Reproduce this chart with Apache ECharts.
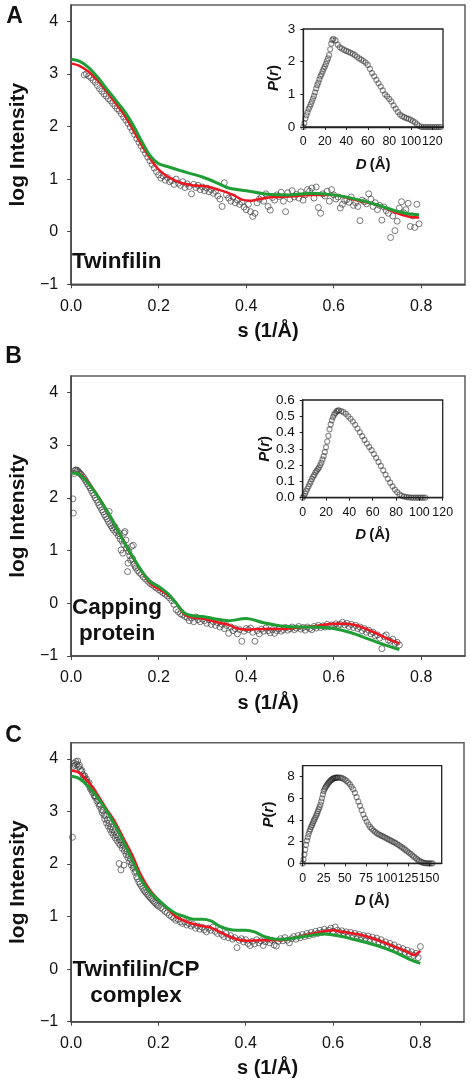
<!DOCTYPE html>
<html>
<head>
<meta charset="utf-8">
<script src="https://cdn.jsdelivr.net/npm/echarts@6/dist/echarts.min.js"></script>
<style>
html,body{margin:0;padding:0;background:#fff;}
#chart{width:471px;height:1088px;}
</style>
</head>
<body>
<div id="chart"></div>
<script>
// ---------- tick labels ----------
const S_TICKS = [0, 0.2, 0.4, 0.6, 0.8];
const LOGI_TICKS = [-1, 0, 1, 2, 3, 4];
const PR_A_XTICKS = [0, 20, 40, 60, 80, 100, 120];
const PR_A_YTICKS = [0, 1, 2, 3];
const PR_B_XTICKS = [0, 20, 40, 60, 80, 100, 120];
const PR_B_YTICKS = [0, 0.1, 0.2, 0.3, 0.4, 0.5, 0.6];
const PR_C_XTICKS = [0, 25, 50, 75, 100, 125, 150];
const PR_C_YTICKS = [0, 2, 4, 6, 8];
const PANEL_LETTERS = ['A', 'B', 'C'];
const PANEL_NAMES = ['Twinfilin', 'Capping\nprotein', 'Twinfilin/CP\ncomplex'];

// ---------- Panel A: Twinfilin (s, log I) ----------
const expA = [[0.030,2.98],[0.035,3.00],[0.040,2.96],[0.045,2.93],[0.050,2.88],[0.055,2.84],[0.060,2.78],[0.065,2.72],[0.070,2.67],[0.075,2.62],[0.080,2.58],[0.085,2.53],[0.090,2.49],[0.095,2.44],[0.100,2.39],[0.105,2.34],[0.110,2.30],[0.115,2.24],[0.120,2.18],[0.125,2.12],[0.130,2.06],[0.135,1.99],[0.140,1.92],[0.145,1.85],[0.150,1.77],[0.155,1.70],[0.160,1.63],[0.165,1.56],[0.170,1.49],[0.175,1.42],[0.180,1.35],[0.185,1.28],[0.190,1.21],[0.195,1.14],
[0.200,1.08],[0.205,1.02],[0.210,1.06],[0.215,0.98],[0.220,1.03],[0.225,0.95],[0.230,0.97],[0.235,0.90],[0.240,1.00],[0.245,0.92],[0.250,0.88],[0.255,0.95],[0.260,0.84],[0.265,0.91],[0.270,0.86],[0.275,0.72],[0.280,0.90],[0.285,0.84],[0.290,0.88],[0.295,0.80],[0.300,0.85],[0.305,0.78],[0.310,0.83],[0.315,0.76],[0.320,0.80],[0.325,0.73],[0.330,0.77],[0.335,0.68],[0.340,0.62],[0.345,0.48],[0.350,0.93],[0.355,0.70],[0.360,0.64],[0.365,0.58],[0.370,0.66],[0.375,0.55],[0.380,0.60],[0.385,0.52],[0.390,0.56],[0.395,0.47],[0.400,0.42],[0.405,0.52],[0.410,0.38],[0.415,0.29],[0.420,0.35],[0.425,0.55],[0.430,0.62],[0.435,0.66],[0.440,0.58],[0.445,0.72],[0.450,0.48],[0.455,0.41],[0.460,0.65],[0.465,0.60],[0.470,0.70],[0.475,0.67],[0.480,0.75],[0.485,0.58],[0.490,0.38],[0.495,0.74],[0.500,0.62],[0.505,0.78],[0.510,0.66],[0.515,0.71],[0.520,0.64],[0.525,0.76],[0.530,0.60],[0.535,0.70],[0.540,0.80],[0.545,0.77],[0.550,0.83],[0.555,0.64],[0.560,0.85],[0.565,0.46],[0.570,0.35],[0.575,0.72],[0.580,0.68],[0.585,0.77],[0.590,0.58],[0.595,0.80],[0.600,0.70],[0.605,0.62],[0.610,0.66],[0.615,0.45],[0.620,0.52],[0.625,0.59],[0.630,0.61],[0.635,0.56],[0.640,0.66],[0.645,0.50],[0.650,0.55],[0.655,0.48],[0.660,0.21],[0.665,0.60],[0.670,0.57],[0.675,0.53],[0.680,0.72],[0.685,0.62],[0.690,0.48],[0.695,0.55],[0.700,0.42],[0.705,0.50],[0.710,0.22],[0.715,0.47],[0.720,0.40],[0.725,0.35],[0.730,-0.11],[0.735,0.30],[0.740,0.02],[0.745,0.20],[0.750,0.45],[0.755,0.57],[0.760,0.36],[0.765,0.42],[0.770,0.54],[0.775,0.10],[0.780,0.30],[0.785,0.08],[0.790,0.52],[0.795,0.15]];
const fitA = [[0,3.20],[0.02,3.15],[0.04,3.04],[0.06,2.88],[0.08,2.68],[0.10,2.46],[0.12,2.24],[0.14,1.96],[0.16,1.66],[0.18,1.40],[0.19,1.28],[0.20,1.18],[0.22,1.05],[0.25,0.93],[0.28,0.88],[0.31,0.86],[0.34,0.79],[0.37,0.70],[0.39,0.61],[0.41,0.59],[0.43,0.62],[0.46,0.66],[0.50,0.67],[0.55,0.70],[0.60,0.70],[0.65,0.60],[0.70,0.51],[0.74,0.37],[0.77,0.29],[0.795,0.27]];
const modelA = [[0,3.28],[0.02,3.24],[0.04,3.12],[0.06,2.94],[0.08,2.73],[0.10,2.52],[0.12,2.31],[0.14,2.05],[0.16,1.74],[0.18,1.45],[0.20,1.29],[0.22,1.24],[0.25,1.16],[0.28,1.09],[0.30,1.04],[0.33,0.94],[0.36,0.83],[0.40,0.78],[0.45,0.71],[0.50,0.70],[0.55,0.73],[0.60,0.70],[0.65,0.62],[0.70,0.51],[0.74,0.40],[0.77,0.34],[0.795,0.32]];
const prA = [[0,0],[1,0.12],[2,0.26],[3,0.36],[4,0.45],[5,0.55],[6,0.62],[7,0.70],[8,0.78],[9,0.87],[10,0.95],[11,1.06],[12,1.18],[13,1.28],[14,1.36],[15,1.46],[16,1.55],[17,1.62],[18,1.70],[19,1.78],[20,1.85],[21,1.93],[22,2.02],[23,2.10],[24,2.20],[25,2.38],[26,2.55],[27,2.66],[28,2.70],
[30,2.65],[32,2.52],[34,2.44],[36,2.40],[38,2.36],[40,2.33],[42,2.30],[44,2.27],[46,2.24],[48,2.20],[50,2.15],[52,2.10],[54,2.06],[56,2.02],[58,1.97],[60,1.90],[62,1.78],[64,1.65],[66,1.55],[68,1.44],[70,1.34],[72,1.24],[74,1.12],[76,1.00],[78,0.94],[80,0.86],[82,0.78],[84,0.66],[86,0.56],[88,0.46],[90,0.38],[92,0.33],[94,0.30],[96,0.27],[98,0.25],[100,0.22],[102,0.18],[104,0.14],[106,0.08],[108,0.03],[110,0],[112,0],[114,0],[116,0],[118,0],[120,0],[122,0],[124,0],[126,0],[128,0]];

// ---------- Panel B: Capping protein ----------
const expB = [[0.004,1.98],[0.005,1.71],[0.007,2.46],[0.009,2.52],[0.011,2.53],[0.013,2.51],[0.015,2.52],[0.017,2.49],[0.019,2.47],[0.022,2.45],[0.025,2.42],[0.028,2.39],[0.031,2.35],[0.034,2.31],[0.037,2.27],[0.040,2.23],[0.043,2.19],[0.046,2.14],[0.049,2.09],[0.052,2.05],[0.055,2.00],[0.058,1.96],[0.061,1.91],[0.064,1.86],[0.067,1.82],[0.070,1.77],[0.073,1.73],[0.076,1.68],[0.079,1.64],[0.082,1.60],[0.085,1.55],[0.087,1.74],[0.088,1.51],[0.091,1.47],[0.094,1.43],[0.097,1.39],[0.100,1.45],[0.102,1.34],[0.105,1.38],[0.108,1.28],[0.110,1.32],[0.112,1.22],[0.114,1.01],[0.116,1.18],[0.118,0.95],[0.120,1.12],[0.121,1.33],[0.123,1.36],[0.125,1.20],[0.127,1.05],[0.129,0.60],[0.130,0.76],[0.132,0.98],[0.134,0.90],[0.136,0.82],[0.138,1.08],[0.140,0.85],[0.142,1.10],[0.144,0.74],[0.146,0.70],[0.148,0.67],
[0.152,0.62],[0.156,0.58],[0.160,0.55],[0.165,0.50],[0.170,0.46],[0.175,0.42],[0.180,0.38],[0.185,0.35],[0.190,0.32],[0.195,0.29],[0.200,0.26],[0.205,0.23],[0.210,0.20],[0.215,0.17],[0.220,0.14],[0.225,0.10],[0.230,0.05],[0.235,-0.02],[0.240,-0.12],[0.245,-0.16],[0.250,-0.20],[0.255,-0.22],[0.260,-0.25],[0.265,-0.27],[0.270,-0.33],[0.275,-0.28],[0.280,-0.35],[0.285,-0.26],[0.290,-0.31],[0.295,-0.35],[0.300,-0.30],[0.305,-0.33],[0.310,-0.38],[0.315,-0.31],[0.320,-0.40],[0.325,-0.35],[0.330,-0.42],[0.335,-0.37],[0.340,-0.45],[0.345,-0.40],[0.350,-0.48],[0.355,-0.42],[0.360,-0.57],[0.365,-0.45],[0.370,-0.52],[0.375,-0.48],[0.380,-0.58],[0.385,-0.50],[0.390,-0.72],[0.395,-0.53],[0.400,-0.48],[0.405,-0.50],[0.410,-0.47],[0.415,-0.55],[0.420,-0.72],[0.425,-0.52],[0.430,-0.58],[0.435,-0.49],[0.440,-0.53],[0.445,-0.47],[0.450,-0.52],[0.455,-0.56],[0.460,-0.50],[0.465,-0.57],[0.470,-0.52],[0.475,-0.48],[0.480,-0.53],[0.485,-0.50],[0.490,-0.46],[0.495,-0.51],[0.500,-0.48],[0.505,-0.45],[0.510,-0.50],[0.515,-0.47],[0.520,-0.44],[0.525,-0.49],[0.530,-0.46],[0.535,-0.51],[0.540,-0.45],[0.545,-0.48],[0.550,-0.50],[0.555,-0.44],[0.560,-0.47],[0.565,-0.42],[0.570,-0.46],[0.575,-0.43],[0.580,-0.45],[0.585,-0.40],[0.590,-0.44],[0.595,-0.41],[0.600,-0.43],[0.605,-0.39],[0.610,-0.42],[0.615,-0.40],[0.620,-0.36],[0.625,-0.41],[0.630,-0.38],[0.635,-0.44],[0.640,-0.40],[0.645,-0.46],[0.650,-0.42],[0.655,-0.48],[0.660,-0.45],[0.665,-0.52],[0.670,-0.48],[0.675,-0.55],[0.680,-0.51],[0.685,-0.58],[0.690,-0.55],[0.695,-0.62],[0.700,-0.60],[0.705,-0.66],[0.710,-0.86],[0.715,-0.63],[0.720,-0.60],[0.725,-0.70],[0.730,-0.72],[0.735,-0.68],[0.740,-0.76],[0.745,-0.74],[0.750,-0.79]];
const fitB = [[0,2.47],[0.02,2.45],[0.05,2.17],[0.08,1.78],[0.10,1.49],[0.12,1.17],[0.14,0.88],[0.16,0.62],[0.18,0.38],[0.20,0.27],[0.22,0.16],[0.24,0.01],[0.26,-0.22],[0.28,-0.27],[0.30,-0.29],[0.33,-0.35],[0.36,-0.41],[0.38,-0.48],[0.40,-0.50],[0.44,-0.49],[0.48,-0.49],[0.52,-0.46],[0.56,-0.43],[0.60,-0.39],[0.63,-0.39],[0.66,-0.44],[0.70,-0.58],[0.73,-0.70],[0.75,-0.76]];
const modelB = [[0,2.47],[0.02,2.44],[0.05,2.16],[0.08,1.78],[0.10,1.49],[0.12,1.17],[0.14,0.89],[0.16,0.63],[0.18,0.41],[0.20,0.32],[0.22,0.19],[0.24,0.0],[0.26,-0.19],[0.28,-0.24],[0.30,-0.25],[0.33,-0.30],[0.36,-0.33],[0.40,-0.29],[0.44,-0.37],[0.48,-0.43],[0.52,-0.45],[0.56,-0.45],[0.60,-0.48],[0.64,-0.56],[0.68,-0.68],[0.72,-0.80],[0.75,-0.88]];
const prB = [[0,0],[1,0.01],[2,0.025],[3,0.04],[4,0.055],[5,0.07],[6,0.085],[7,0.10],[8,0.115],[9,0.13],[10,0.14],[11,0.155],[12,0.165],[13,0.175],[14,0.185],[15,0.20],[16,0.215],[17,0.235],[18,0.255],[19,0.28],[20,0.31],[21,0.345],[22,0.38],[23,0.42],[24,0.45],[25,0.475],[26,0.495],[27,0.51],[28,0.52],[29,0.53],[30,0.535],[31,0.537],
[33,0.532],[35,0.525],[37,0.515],[39,0.50],[41,0.485],[43,0.468],[45,0.448],[47,0.425],[49,0.402],[51,0.378],[53,0.355],[55,0.333],[57,0.312],[59,0.292],[61,0.268],[63,0.245],[65,0.22],[67,0.195],[69,0.168],[71,0.142],[73,0.116],[75,0.092],[77,0.07],[79,0.05],[81,0.034],[83,0.021],[85,0.012],[87,0.007],[89,0.004],[91,0.002],[93,0.001],[95,0],[97,0],[99,0],[101,0],[103,0],[105,0]];

// ---------- Panel C: Twinfilin/CP complex ----------
const expC = [[0.003,2.51],[0.005,3.86],[0.007,3.92],[0.009,3.88],[0.011,3.95],[0.013,3.90],[0.015,3.96],[0.017,3.85],[0.019,3.88],[0.021,3.80],[0.023,3.76],[0.025,3.78],[0.027,3.70],[0.029,3.66],[0.031,3.68],[0.033,3.60],[0.035,3.62],[0.037,3.55],[0.039,3.52],[0.041,3.55],[0.043,3.46],[0.045,3.42],[0.047,3.44],[0.049,3.36],[0.051,3.38],[0.053,3.30],[0.055,3.27],[0.057,3.29],[0.059,3.20],[0.061,3.23],[0.063,3.15],[0.065,3.10],[0.067,3.13],[0.069,3.04],[0.071,2.98],[0.073,3.02],[0.075,2.93],[0.077,2.86],[0.079,2.92],[0.081,2.78],[0.083,2.84],[0.085,2.72],[0.087,2.78],[0.089,2.66],[0.091,2.71],[0.093,2.60],[0.095,2.66],[0.097,2.55],[0.099,2.61],[0.101,2.50],[0.103,2.56],[0.105,2.45],[0.107,2.52],[0.109,2.40],[0.110,2.01],[0.111,2.46],[0.113,2.36],[0.114,1.89],[0.115,2.42],[0.117,2.30],[0.119,2.36],[0.121,1.98],[0.122,2.25],[0.124,2.30],[0.126,2.18],[0.128,2.24],[0.130,2.12],[0.132,2.17],[0.134,2.05],[0.136,2.10],[0.138,1.98],[0.140,2.02],[0.142,1.92],[0.144,1.95],[0.146,1.84],[0.148,1.87],[0.150,1.76],[0.152,1.72],[0.155,1.66],[0.158,1.62],[0.161,1.58],[0.164,1.54],[0.167,1.50],[0.170,1.47],[0.173,1.44],[0.176,1.41],[0.179,1.38],[0.182,1.35],[0.185,1.33],[0.188,1.30],[0.191,1.27],[0.194,1.25],[0.197,1.22],[0.200,1.20],[0.205,1.17],[0.210,1.14],[0.215,1.10],[0.220,1.07],[0.225,1.03],[0.230,1.00],[0.235,0.97],[0.240,0.93],[0.245,0.95],[0.250,0.90],[0.255,0.87],[0.260,0.90],[0.265,0.84],[0.270,0.87],[0.275,0.82],[0.280,0.85],[0.285,0.78],[0.290,0.82],[0.295,0.76],[0.300,0.80],[0.305,0.75],[0.310,0.71],[0.315,0.78],[0.320,0.74],[0.325,0.80],[0.330,0.72],[0.335,0.68],[0.340,0.74],[0.345,0.66],[0.350,0.62],[0.355,0.68],[0.360,0.60],[0.365,0.64],[0.370,0.57],[0.375,0.60],[0.380,0.41],[0.385,0.55],[0.390,0.58],[0.395,0.52],[0.400,0.56],[0.405,0.49],[0.410,0.45],[0.415,0.53],[0.420,0.48],[0.425,0.56],[0.430,0.50],[0.435,0.54],[0.440,0.45],[0.445,0.52],[0.450,0.57],[0.455,0.50],[0.460,0.55],[0.465,0.46],[0.470,0.44],[0.475,0.53],[0.480,0.58],[0.485,0.54],[0.490,0.60],[0.495,0.55],[0.500,0.50],[0.505,0.58],[0.510,0.62],[0.515,0.57],[0.520,0.64],[0.525,0.60],[0.530,0.66],[0.535,0.62],[0.540,0.68],[0.545,0.64],[0.550,0.70],[0.555,0.66],[0.560,0.72],[0.565,0.68],[0.570,0.74],[0.575,0.70],[0.580,0.76],[0.585,0.71],[0.590,0.74],[0.595,0.78],[0.600,0.72],[0.605,0.80],[0.610,0.74],[0.615,0.70],[0.620,0.73],[0.625,0.68],[0.630,0.71],[0.635,0.66],[0.640,0.70],[0.645,0.64],[0.650,0.68],[0.655,0.63],[0.660,0.66],[0.665,0.61],[0.670,0.64],[0.675,0.59],[0.680,0.63],[0.685,0.57],[0.690,0.61],[0.695,0.55],[0.700,0.59],[0.705,0.52],[0.710,0.56],[0.715,0.48],[0.720,0.52],[0.725,0.45],[0.730,0.49],[0.735,0.42],[0.740,0.46],[0.745,0.38],[0.750,0.42],[0.755,0.35],[0.760,0.39],[0.765,0.32],[0.770,0.36],[0.775,0.29],[0.780,0.33],[0.785,0.26],[0.790,0.30],[0.795,0.22],[0.800,0.43]];
const fitC = [[0,3.78],[0.02,3.73],[0.05,3.45],[0.08,3.06],[0.10,2.81],[0.12,2.49],[0.14,2.17],[0.16,1.79],[0.18,1.51],[0.20,1.32],[0.22,1.16],[0.24,1.00],[0.26,0.92],[0.28,0.86],[0.30,0.82],[0.32,0.79],[0.34,0.71],[0.36,0.63],[0.38,0.57],[0.40,0.54],[0.44,0.55],[0.48,0.55],[0.50,0.58],[0.54,0.65],[0.58,0.72],[0.60,0.74],[0.62,0.71],[0.66,0.66],[0.70,0.56],[0.74,0.43],[0.77,0.33],[0.785,0.27],[0.80,0.35]];
const modelC = [[0,3.67],[0.02,3.62],[0.05,3.38],[0.08,3.03],[0.10,2.75],[0.12,2.43],[0.14,2.08],[0.16,1.71],[0.18,1.47],[0.20,1.32],[0.22,1.17],[0.24,1.06],[0.26,1.00],[0.28,0.95],[0.30,0.95],[0.32,0.92],[0.34,0.82],[0.36,0.76],[0.38,0.74],[0.40,0.74],[0.42,0.71],[0.44,0.63],[0.46,0.58],[0.48,0.57],[0.50,0.58],[0.54,0.63],[0.58,0.67],[0.62,0.62],[0.66,0.54],[0.70,0.45],[0.74,0.33],[0.78,0.17],[0.80,0.11]];
const prC = [[0,0],[1,0.35],[2,0.8],[3,1.25],[4,1.7],[5,2.1],[6,2.4],[7,2.7],[8,2.95],[9,3.15],[10,3.35],[11,3.52],[12,3.7],[13,3.88],[14,4.05],[15,4.22],[16,4.4],[17,4.58],[18,4.78],[19,4.98],[20,5.18],[21,5.4],[22,5.7],[23,6.0],[24,6.35],[25,6.65],[26,6.85],[27,7.0],[28,7.12],[29,7.24],[30,7.35],[31,7.45],[32,7.54],[33,7.62],[34,7.69],[35,7.75],[36,7.8],[37,7.84],[38,7.87],[39,7.89],[40,7.9],[41,7.91],[42,7.91],
[44,7.9],[46,7.87],[48,7.8],[50,7.72],[52,7.6],[54,7.45],[56,7.28],[58,7.05],[60,6.82],[62,6.5],[64,6.1],[66,5.7],[68,5.3],[70,4.9],[72,4.5],[74,4.15],[76,3.85],[78,3.58],[80,3.35],[82,3.18],[84,3.02],[86,2.9],[88,2.78],[90,2.68],[92,2.6],[94,2.52],[96,2.44],[98,2.36],[100,2.28],[102,2.2],[104,2.12],[106,2.04],[108,1.96],[110,1.88],[112,1.78],[114,1.68],[116,1.57],[118,1.46],[120,1.35],[122,1.23],[124,1.11],[126,0.99],[128,0.87],[130,0.74],[132,0.61],[134,0.48],[136,0.36],[138,0.25],[140,0.15],[142,0.08],[144,0.03],[146,0.01],[148,0],[150,0],[152,0],[154,0]];

// ---------- build chart ----------
const FONT = '"Liberation Sans", Arial, Helvetica, sans-serif';
const TXT = '#111';
const chart = echarts.init(document.getElementById('chart'), null, {renderer: 'canvas'});

const mainGrids = [
  {left: 66.7, top: 5, width: 398.3, height: 279.3},
  {left: 66.7, top: 376, width: 398.3, height: 280},
  {left: 66.7, top: 742.7, width: 397.3, height: 279}
];
const insetGrids = [
  {left: 303.3, top: 29, width: 139.7, height: 98},
  {left: 302.7, top: 400, width: 140, height: 97.7},
  {left: 302.7, top: 765.7, width: 139, height: 97.6}
];
const insetSpec = [
  {xmax: 130, ymax: 3, xt: PR_A_XTICKS, yt: PR_A_YTICKS, yfmt: v => String(v), ygap: 22, data: prA},
  {xmax: 120, ymax: 0.6, xt: PR_B_XTICKS, yt: PR_B_YTICKS, yfmt: v => v.toFixed(1), ygap: 28, data: prB},
  {xmax: 165, ymax: 9, xt: PR_C_XTICKS, yt: PR_C_YTICKS, yfmt: v => String(v), ygap: 26, data: prC}
];
const panels = [
  {exp: expA, fit: fitA, model: modelA},
  {exp: expB, fit: fitB, model: modelB},
  {exp: expC, fit: fitC, model: modelC}
];

const grids = [], xAxes = [], yAxes = [], series = [];
panels.forEach((p, k) => {
  const gi = grids.length;
  grids.push(Object.assign({show: true, borderColor: '#5e5e5e', borderWidth: 1.5, backgroundColor: 'transparent'}, mainGrids[k]));
  xAxes.push({
    type: 'value', gridIndex: gi, min: 0, max: 0.9,
    name: 's (1/Å)', nameLocation: 'middle', nameGap: 37,
    nameTextStyle: {fontSize: 20, fontWeight: 'bold', color: TXT, fontFamily: FONT},
    axisLine: {onZero: false, lineStyle: {color: '#444', width: 1.5}},
    axisTick: {customValues: S_TICKS, length: 4, lineStyle: {color: '#444'}},
    axisLabel: {customValues: S_TICKS, hideOverlap: false, margin: 14, fontSize: 16, color: TXT, fontFamily: FONT, formatter: v => v.toFixed(1)},
    splitLine: {show: false}
  });
  yAxes.push({
    type: 'value', gridIndex: gi, min: -1, max: 4.31,
    name: 'log Intensity', nameLocation: 'middle', nameGap: 38,
    nameTextStyle: {fontSize: 21, fontWeight: 'bold', color: TXT, fontFamily: FONT},
    axisLine: {onZero: false, lineStyle: {color: '#444', width: 1.5}},
    axisTick: {customValues: LOGI_TICKS, length: 4, lineStyle: {color: '#444'}},
    axisLabel: {customValues: LOGI_TICKS, hideOverlap: false, margin: 13, fontSize: 16, color: TXT, fontFamily: FONT, formatter: v => v < 0 ? '\u2212' + Math.abs(v) : String(v)},
    splitLine: {show: false}
  });
  series.push({
    type: 'scatter', xAxisIndex: gi, yAxisIndex: gi, data: p.exp,
    symbol: 'circle', symbolSize: 6,
    itemStyle: {color: 'rgba(255,255,255,0)', borderColor: 'rgba(60,60,60,0.85)', borderWidth: 1},
    z: 2, silent: true
  });
  series.push({
    type: 'line', xAxisIndex: gi, yAxisIndex: gi, data: p.fit, showSymbol: false, smooth: 0.3,
    lineStyle: {color: '#ee1620', width: 2.5}, z: 3, silent: true
  });
  series.push({
    type: 'line', xAxisIndex: gi, yAxisIndex: gi, data: p.model, showSymbol: false, smooth: 0.3,
    lineStyle: {color: '#1f9e35', width: 3}, z: 4, silent: true
  });

  const ii = grids.length;
  const s = insetSpec[k];
  grids.push(Object.assign({show: true, borderColor: '#222', borderWidth: 1.3, backgroundColor: '#fff', z: 5}, insetGrids[k]));
  xAxes.push({
    type: 'value', gridIndex: ii, min: 0, max: s.xmax, z: 6,
    name: '{i|D}\u2009(Å)', nameLocation: 'middle', nameGap: 30,
    nameTextStyle: {fontSize: 15, fontWeight: 'bold', color: TXT, fontFamily: FONT,
      rich: {i: {fontSize: 15, fontWeight: 'bold', fontStyle: 'italic', color: TXT, fontFamily: FONT}}},
    axisLine: {onZero: false, lineStyle: {color: '#222', width: 1.3}},
    axisTick: {customValues: s.xt, length: 3, lineStyle: {color: '#222'}},
    axisLabel: {customValues: s.xt, hideOverlap: false, showMinLabel: true, showMaxLabel: true, margin: 9, fontSize: 12.4, color: TXT, fontFamily: FONT},
    splitLine: {show: false}
  });
  yAxes.push({
    type: 'value', gridIndex: ii, min: 0, max: s.ymax, z: 6,
    name: '{i|P}({i|r})', nameLocation: 'middle', nameGap: s.ygap,
    nameTextStyle: {fontSize: 15, fontWeight: 'bold', color: TXT, fontFamily: FONT,
      rich: {i: {fontSize: 15, fontWeight: 'bold', fontStyle: 'italic', color: TXT, fontFamily: FONT}}},
    axisLine: {onZero: false, lineStyle: {color: '#222', width: 1.3}},
    axisTick: {customValues: s.yt, length: 3, lineStyle: {color: '#222'}},
    axisLabel: {customValues: s.yt, hideOverlap: false, margin: 8, fontSize: 13.5, color: TXT, fontFamily: FONT, formatter: s.yfmt},
    splitLine: {show: false}
  });
  series.push({
    type: 'scatter', xAxisIndex: ii, yAxisIndex: ii, data: s.data,
    symbol: 'circle', symbolSize: 5,
    itemStyle: {color: 'rgba(255,255,255,0)', borderColor: 'rgba(25,25,25,0.6)', borderWidth: 1.2},
    z: 7, silent: true
  });
});

const letterPos = [[14.5, 16.5], [13.5, 357], [13.5, 735.5]];
const namePos = [
  {x: 72, y: 262, align: 'left'},
  {x: 117, y: 621, align: 'center'},
  {x: 136, y: 982.5, align: 'center'}
];
const graphics = [];
PANEL_LETTERS.forEach((L, k) => {
  graphics.push({type: 'text', x: letterPos[k][0], y: letterPos[k][1], z: 10,
    style: {text: L, fill: TXT, font: 'bold 23px ' + FONT, textAlign: 'center', textVerticalAlign: 'middle'}});
});
PANEL_NAMES.forEach((N, k) => {
  graphics.push({type: 'text', x: namePos[k].x, y: namePos[k].y, z: 10,
    style: {text: N, fill: TXT, font: 'bold 22.5px ' + FONT, lineHeight: 26, textAlign: namePos[k].align, textVerticalAlign: 'middle'}});
});

chart.setOption({
  animation: false,
  backgroundColor: '#fff',
  grid: grids,
  xAxis: xAxes,
  yAxis: yAxes,
  series: series,
  graphic: graphics
});
</script>
</body>
</html>
